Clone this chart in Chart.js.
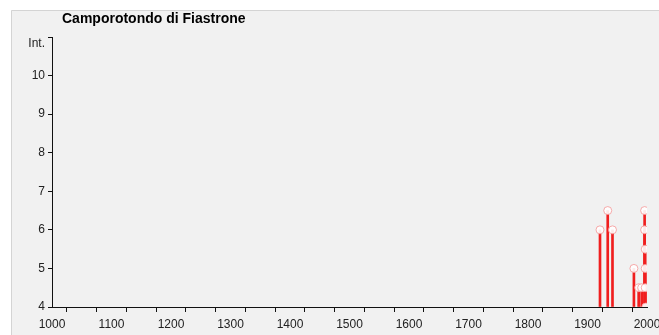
<!DOCTYPE html>
<html>
<head>
<meta charset="utf-8">
<script src="https://cdn.jsdelivr.net/npm/chart.js@4"></script>
<style>
    html, body { margin: 0; padding: 0; background: #fff; }
    #wrap { width: 659px; height: 335px; position: relative; }
</style>
</head>
<body>
<div id="wrap"><canvas id="chart" width="659" height="335"></canvas></div>
<script>
// Site seismic history: year of event and felt intensity
const chartTitle = 'Camporotondo di Fiastrone';
const years = [1921, 1934, 1942, 1978, 1986, 1991, 1996, 1996, 1997, 1997, 1997, 1998];
const intensities = [6, 6.5, 6, 5, 4.5, 4.5, 6.5, 6, 5.5, 5, 4.5, 4];
const baseIntensity = 4;
const yTickLabels = ['4', '5', '6', '7', '8', '9', '10', ''];
const yAxisName = 'Int.';

const points = years.map((y, i) => ({ x: y, y: intensities[i] }));
const fontFamily = '"Liberation Sans", Arial, sans-serif';

// Grey panel, title and axis name
const backdrop = {
    id: 'backdrop',
    beforeDraw(chart) {
        const ctx = chart.ctx;
        ctx.save();
        ctx.fillStyle = '#fff';
        ctx.fillRect(0, 0, chart.width, chart.height);
        ctx.fillStyle = '#f1f1f1';
        ctx.fillRect(11, 10, chart.width - 11, chart.height - 10);
        ctx.strokeStyle = '#d4d4d4';
        ctx.beginPath();
        ctx.moveTo(11.5, chart.height);
        ctx.lineTo(11.5, 10.5);
        ctx.lineTo(chart.width, 10.5);
        ctx.stroke();
        ctx.fillStyle = '#000';
        ctx.font = 'bold 14px ' + fontFamily;
        ctx.textBaseline = 'middle';
        ctx.fillText(chartTitle, 62, 19);
        ctx.fillStyle = '#222';
        ctx.font = '12px ' + fontFamily;
        ctx.textAlign = 'right';
        ctx.fillText(yAxisName, 45, 44);
        ctx.restore();
    }
};

new Chart(document.getElementById('chart'), {
    data: {
        datasets: [
            {
                type: 'scatter',
                data: points,
                order: 0,
                pointRadius: 4,
                pointBackgroundColor: 'rgba(255,255,255,0.9)',
                pointBorderColor: 'rgba(245,150,150,0.8)',
                pointBorderWidth: 1
            },
            {
                type: 'bar',
                data: points,
                base: baseIntensity,
                order: 1,
                barThickness: 2,
                backgroundColor: '#f01e1e'
            }
        ]
    },
    options: {
        responsive: false,
        animation: false,
        layout: { padding: { left: 0, top: 37, right: 12, bottom: 0 } },
        plugins: { legend: { display: false }, tooltip: { enabled: false } },
        scales: {
            x: {
                type: 'linear',
                min: 1000,
                max: 2000,
                offset: false,
                border: { color: '#111', width: 1 },
                grid: { drawOnChartArea: false, color: '#111', tickLength: 5 },
                ticks: {
                    stepSize: 50,
                    autoSkip: false,
                    maxRotation: 0,
                    padding: 5,
                    color: '#222',
                    font: { family: fontFamily, size: 12 },
                    callback: v => (v % 100 === 0 ? String(v) : '')
                },
                afterFit: s => { s.height = 28; s.paddingRight = 0; s.paddingLeft = 0; }
            },
            y: {
                min: 4,
                max: 11,
                border: { color: '#111', width: 1 },
                grid: { drawOnChartArea: false, color: '#111', tickLength: 4 },
                ticks: {
                    stepSize: 1,
                    padding: 3,
                    color: '#222',
                    font: { family: fontFamily, size: 12 },
                    callback: (v, i) => yTickLabels[i]
                },
                afterFit: s => { s.width = 52; }
            }
        }
    },
    plugins: [backdrop]
});
</script>
</body>
</html>
